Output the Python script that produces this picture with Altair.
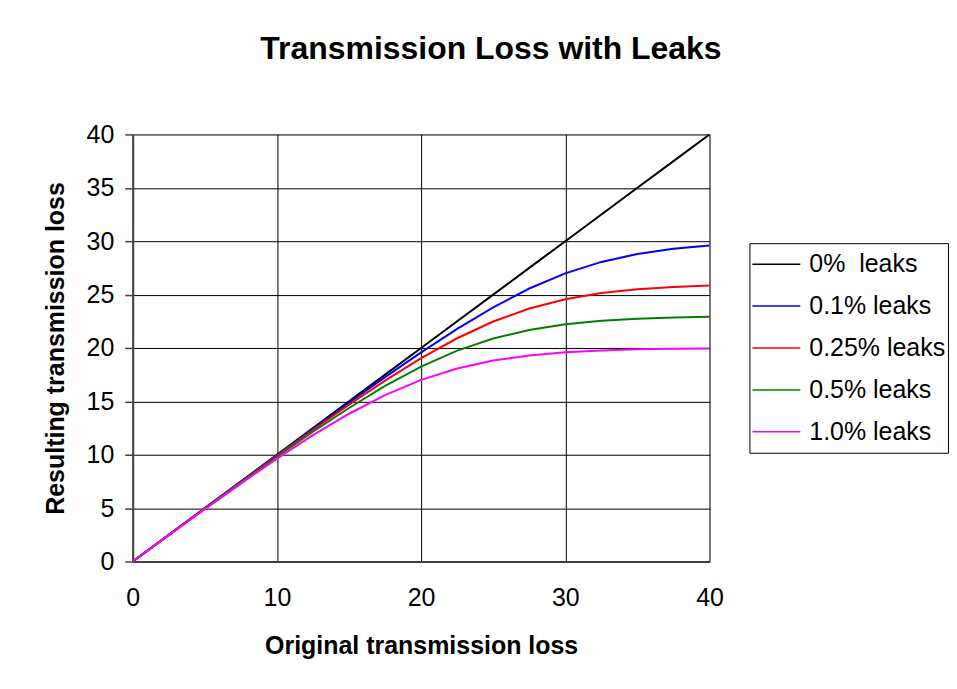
import altair as alt
import pandas as pd

# Original transmission loss (x) values
x_vals = [0, 2.5, 5, 7.5, 10, 12.5, 15, 17.5, 20, 22.5, 25, 27.5, 30, 32.5, 35, 37.5, 40]

# Resulting transmission loss per leak fraction
leak_0 = [0, 2.5, 5, 7.5, 10, 12.5, 15, 17.5, 20, 22.5, 25, 27.5, 30, 32.5, 35, 37.5, 40]
leak_01 = [0, 2.5, 5.0, 7.48, 9.96, 12.43, 14.87, 17.27, 19.59, 21.79, 23.81, 25.57, 26.99, 28.06, 28.81, 29.29, 29.59]
leak_025 = [0, 2.49, 4.98, 7.45, 9.90, 12.32, 14.68, 16.94, 19.04, 20.91, 22.48, 23.69, 24.56, 25.14, 25.51, 25.72, 25.85]
leak_05 = [0, 2.48, 4.95, 7.40, 9.81, 12.15, 14.38, 16.44, 18.25, 19.75, 20.89, 21.69, 22.22, 22.55, 22.74, 22.86, 22.92]
leak_10 = [0, 2.47, 4.91, 7.30, 9.63, 11.83, 13.84, 15.59, 17.01, 18.08, 18.82, 19.30, 19.59, 19.76, 19.87, 19.92, 19.96]

series_names = ["0%\u00a0 leaks", "0.1% leaks", "0.25% leaks", "0.5% leaks", "1.0% leaks"]
series_values = [leak_0, leak_01, leak_025, leak_05, leak_10]
series_colors = ["#000000", "#0000ff", "#ff0000", "#008000", "#ff00ff"]

x_ticks = [0, 10, 20, 30, 40]
y_ticks = [0, 5, 10, 15, 20, 25, 30, 35, 40]

rows = []
for name, vals in zip(series_names, series_values):
    for xv, yv in zip(x_vals, vals):
        rows.append({"x": xv, "y": yv, "series": name})
df = pd.DataFrame(rows)

FONT = "Liberation Sans"

chart = alt.Chart(df).mark_line(strokeWidth=2).encode(
    x=alt.X(
        "x:Q",
        scale=alt.Scale(domain=[0, 40], nice=False),
        axis=alt.Axis(
            values=x_ticks,
            title="Original transmission loss",
            titleFont=FONT, titleFontSize=25, titleFontWeight="bold", titleColor="#000000",
            titlePadding=23,
            labelFont=FONT, labelFontSize=25, labelColor="#000000", labelPadding=24,
            labelFlush=False,
            tickSize=0,
            grid=True, gridColor="#000000", gridWidth=1, gridOpacity=1,
            domainColor="#404040", domainWidth=2,
        ),
    ),
    y=alt.Y(
        "y:Q",
        scale=alt.Scale(domain=[0, 40], nice=False),
        axis=alt.Axis(
            values=y_ticks,
            title="Resulting transmission loss",
            titleFont=FONT, titleFontSize=25, titleFontWeight="bold", titleColor="#000000",
            titlePadding=18,
            labelFont=FONT, labelFontSize=25, labelColor="#000000", labelPadding=11,
            labelFlush=False,
            tickSize=8, tickColor="#404040", tickWidth=1.5,
            grid=True, gridColor="#000000", gridWidth=1, gridOpacity=1,
            domainColor="#404040", domainWidth=2,
        ),
    ),
    color=alt.Color(
        "series:N",
        scale=alt.Scale(domain=series_names, range=series_colors),
        sort=series_names,
        legend=alt.Legend(
            title=None,
            orient="none", legendX=618, legendY=109,
            symbolType="stroke", symbolSize=2304, symbolStrokeWidth=1.5,
            clipHeight=38, rowPadding=4,
            labelFont=FONT, labelFontSize=25, labelColor="#000000", labelOffset=8,
            padding=2, strokeColor="#000000", fillColor="#ffffff",
            labelLimit=300,
        ),
    ),
).properties(
    width=578,
    height=428,
    title=alt.Title(
        "Transmission Loss with Leaks",
        font=FONT, fontSize=32, fontWeight="bold", color="#000000",
        anchor="middle", dx=70, offset=57,
    ),
    padding={"left": 35, "top": 24, "right": 0, "bottom": 5},
).configure_view(
    stroke="#909090", strokeWidth=2
).configure(background="#ffffff")

chart.save("out.html", embed_options={"renderer": "svg", "actions": False})
